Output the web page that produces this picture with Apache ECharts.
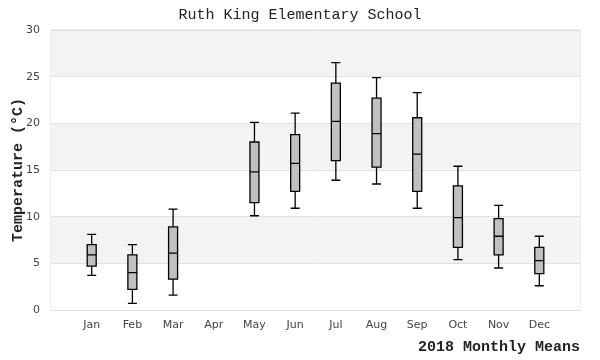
<!DOCTYPE html>
<html>
<head>
<meta charset="utf-8">
<script src="https://cdn.jsdelivr.net/npm/echarts@6/dist/echarts.min.js"></script>
<style>html,body{margin:0;padding:0;background:#fff}#c{width:600px;height:360px}</style>
</head>
<body>
<div id="c"></div>
<script>
var months = ['Jan','Feb','Mar','Apr','May','Jun','Jul','Aug','Sep','Oct','Nov','Dec'];
var lowV    = [3.7, 0.7, 1.6, null, 10.1, 10.9, 13.9, 13.5, 10.9, 5.4, 4.5, 2.6];
var q1V     = [4.7, 2.2, 3.3, null, 11.5, 12.7, 16.0, 15.3, 12.7, 6.7, 5.9, 3.9];
var medianV = [5.9, 4.0, 6.1, null, 14.8, 15.7, 20.2, 18.9, 16.7, 9.9, 7.9, 5.3];
var q3V     = [7.0, 5.9, 8.9, null, 18.0, 18.8, 24.3, 22.7, 20.6, 13.3, 9.8, 6.7];
var highV   = [8.1, 7.0, 10.8, null, 20.1, 21.1, 26.5, 24.9, 23.3, 15.4, 11.2, 7.9];
var yTicks = [0, 5, 10, 15, 20, 25, 30];

var cats = [''].concat(months).concat(['']);
var boxData = ['-'];
for (var i = 0; i < months.length; i++) {
  if (lowV[i] === null) boxData.push('-');
  else boxData.push([lowV[i], q1V[i], medianV[i], q3V[i], highV[i]]);
}
boxData.push('-');

var chart = echarts.init(document.getElementById('c'), null, {renderer: 'canvas'});
chart.setOption({
  animation: false,
  backgroundColor: '#fff',
  title: {
    text: 'Ruth King Elementary School',
    left: 'center', top: 3,
    textStyle: {fontFamily: 'Liberation Mono', fontSize: 15, fontWeight: 'normal', color: '#222'}
  },
  grid: {left: 51, right: 20, top: 30, bottom: 50, outerBoundsMode: 'none', containLabel: false, show: true, borderColor: '#dcdcdc', borderWidth: 1, backgroundColor: 'transparent'},
  xAxis: {
    type: 'category',
    data: cats,
    boundaryGap: false,
    axisLine: {show: false},
    axisTick: {show: false},
    splitLine: {show: false},
    axisLabel: {color: '#444', fontSize: 11, fontFamily: 'DejaVu Sans', margin: 10, interval: 0},
    name: '2018 Monthly Means',
    nameLocation: 'end',
    nameGap: 0,
    nameMoveOverlap: false,
    nameTextStyle: {fontFamily: 'Liberation Mono', fontSize: 15, fontWeight: 'bold', color: '#222', align: 'right', verticalAlign: 'top', padding: [30, 0, 0, 0]}
  },
  yAxis: {
    type: 'value',
    min: yTicks[0], max: yTicks[yTicks.length - 1], interval: 5,
    axisLine: {show: false},
    axisTick: {show: false},
    axisLabel: {color: '#444', fontSize: 11, fontFamily: 'DejaVu Sans', margin: 11},
    splitLine: {show: true, lineStyle: {color: '#e0e0e0', width: 1}},
    splitArea: {show: true, areaStyle: {color: ['#ffffff', '#f3f3f3']}},
    name: 'Temperature (°C)',
    nameLocation: 'middle',
    nameGap: 25,
    nameMoveOverlap: false,
    nameTextStyle: {fontFamily: 'Liberation Mono', fontSize: 15, fontWeight: 'bold', color: '#222'}
  },
  series: [{
    type: 'boxplot',
    data: boxData,
    boxWidth: [9, 9],
    itemStyle: {color: '#c0c0c0', borderColor: '#000', borderWidth: 1.3},
    emphasis: {disabled: true}
  }]
});
</script>
</body>
</html>
